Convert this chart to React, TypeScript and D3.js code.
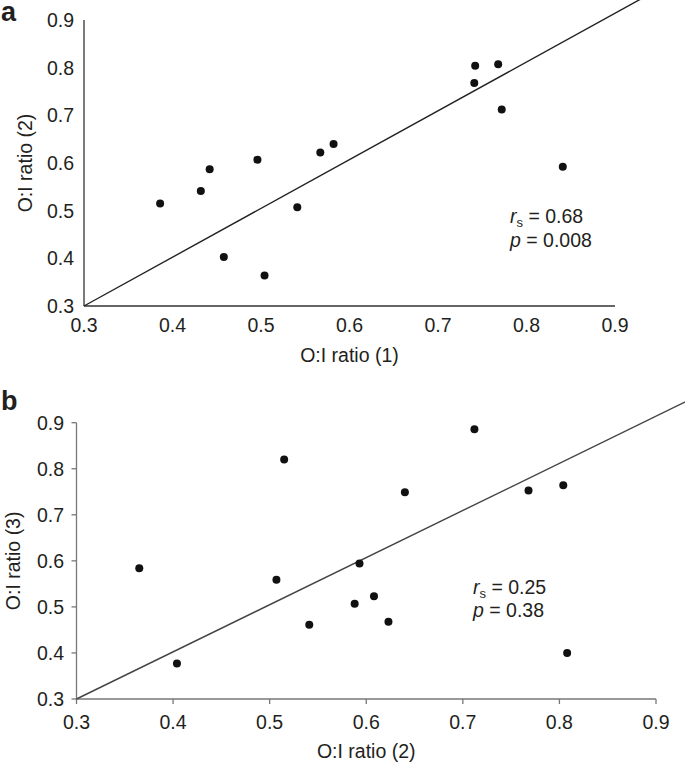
import React from "react";
import * as d3 from "d3";

const ticks = [0.3, 0.4, 0.5, 0.6, 0.7, 0.8, 0.9];

// Panel a: O:I ratio (1) vs O:I ratio (2)
const aRatio1 = [0.386, 0.432, 0.442, 0.458, 0.496, 0.504, 0.541, 0.567, 0.582, 0.742, 0.741, 0.768, 0.772, 0.841];
const aRatio2 = [0.515, 0.541, 0.587, 0.403, 0.607, 0.364, 0.507, 0.622, 0.640, 0.804, 0.768, 0.807, 0.712, 0.592];

// Panel b: O:I ratio (2) vs O:I ratio (3)
const bRatio2 = [0.365, 0.404, 0.507, 0.515, 0.541, 0.588, 0.593, 0.608, 0.623, 0.640, 0.712, 0.768, 0.804, 0.808];
const bRatio3 = [0.584, 0.377, 0.559, 0.820, 0.461, 0.507, 0.594, 0.523, 0.468, 0.749, 0.886, 0.753, 0.764, 0.400];

// Reference (identity-like) line end points
const lineStart = [0.3, 0.3];
const lineEnd = [0.935, 0.95];

const FONT = "'Liberation Sans', Arial, Helvetica, sans-serif";
const TXT = "#231f20";

type PanelProps = {
  letter: string;
  letterY: number;
  xs: number[];
  ys: number[];
  x0: number; x1: number; y0: number; y1: number;
  xTitle: string; yTitle: string;
  xTitleY: number; yTitleX: number;
  xLabelY: number; yLabelX: number;
  tickLen: number;
  axisColor: string;
  lineColor: string;
  rs: string; p: string;
  annX: number; annY1: number; annY2: number;
};

function Panel(props: PanelProps) {
  const x = d3.scaleLinear().domain([0.3, 0.9]).range([props.x0, props.x1]);
  const y = d3.scaleLinear().domain([0.3, 0.9]).range([props.y0, props.y1]);
  const line = d3.line<number[]>().x((d) => x(d[0])).y((d) => y(d[1]));
  const fs = 19.5;
  return (
    <g fontFamily={FONT} fill={TXT}>
      <text x={1} y={props.letterY} fontSize={27} fontWeight="bold">{props.letter}</text>
      {/* axes */}
      <line x1={props.x0} x2={props.x0} y1={props.y0} y2={props.y1} stroke={props.axisColor} strokeWidth={1.3} />
      <line x1={props.x0} x2={props.x1} y1={props.y0} y2={props.y0} stroke={props.axisColor} strokeWidth={1.3} />
      {ticks.map((t) => (
        <g key={"x" + t}>
          {props.tickLen > 0 && (
            <line x1={x(t)} x2={x(t)} y1={props.y0} y2={props.y0 + props.tickLen} stroke={props.axisColor} strokeWidth={1.3} />
          )}
          <text x={x(t)} y={props.xLabelY} fontSize={fs} textAnchor="middle">{d3.format(".1f")(t)}</text>
        </g>
      ))}
      {ticks.map((t) => (
        <g key={"y" + t}>
          {props.tickLen > 0 && (
            <line x1={props.x0 - props.tickLen} x2={props.x0} y1={y(t)} y2={y(t)} stroke={props.axisColor} strokeWidth={1.3} />
          )}
          <text x={props.yLabelX} y={y(t)} dy="0.36em" fontSize={fs} textAnchor="end">{d3.format(".1f")(t)}</text>
        </g>
      ))}
      <text x={(props.x0 + props.x1) / 2} y={props.xTitleY} fontSize={fs} textAnchor="middle">{props.xTitle}</text>
      <text transform={`translate(${props.yTitleX},${(props.y0 + props.y1) / 2}) rotate(-90)`} fontSize={fs} textAnchor="middle">{props.yTitle}</text>
      {/* reference line */}
      <path d={line([lineStart, lineEnd]) || ""} fill="none" stroke={props.lineColor} strokeWidth={1.4} />
      {/* points */}
      {props.xs.map((v, i) => (
        <circle key={i} cx={x(v)} cy={y(props.ys[i])} r={4} fill="#111" />
      ))}
      {/* annotation */}
      <text x={props.annX} y={props.annY1} fontSize={fs}>
        <tspan fontStyle="italic">r</tspan>
        <tspan fontSize={13} dy={4}>s</tspan>
        <tspan dy={-4}>{" = " + props.rs}</tspan>
      </text>
      <text x={props.annX} y={props.annY2} fontSize={fs}>
        <tspan fontStyle="italic">p</tspan>
        <tspan>{" = " + props.p}</tspan>
      </text>
    </g>
  );
}

export default function App() {
  return (
    <svg width={685} height={763} style={{ position: "absolute", left: 0, top: 0, background: "#fff" }}>
      <defs>
        <clipPath id="clipAll"><rect x={0} y={0} width={685} height={763} /></clipPath>
      </defs>
      <g clipPath="url(#clipAll)">
        <Panel
          letter="a" letterY={21}
          xs={aRatio1} ys={aRatio2}
          x0={84} x1={615} y0={306} y1={20}
          xTitle="O:I ratio (1)" yTitle="O:I ratio (2)"
          xTitleY={362} yTitleX={32}
          xLabelY={332} yLabelX={74}
          tickLen={0}
          axisColor="#333" lineColor="#222"
          rs="0.68" p="0.008"
          annX={510} annY1={223} annY2={247}
        />
        <Panel
          letter="b" letterY={410}
          xs={bRatio2} ys={bRatio3}
          x0={76.5} x1={656} y0={699} y1={422.7}
          xTitle="O:I ratio (2)" yTitle="O:I ratio (3)"
          xTitleY={758} yTitleX={20}
          xLabelY={729} yLabelX={64}
          tickLen={5}
          axisColor="#777" lineColor="#444"
          rs="0.25" p="0.38"
          annX={473} annY1={594} annY2={617}
        />
      </g>
    </svg>
  );
}
